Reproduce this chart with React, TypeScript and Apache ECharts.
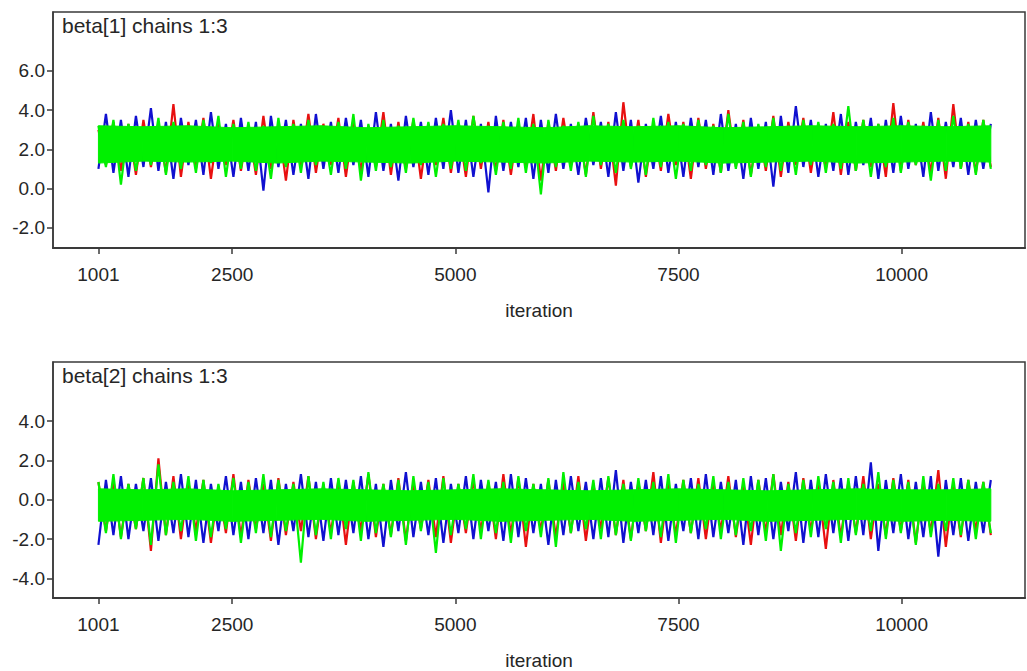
import React, { useEffect, useRef } from "react";
import * as echarts from "echarts";

// ---------- data ----------
const FIRST_ITER = 1001;
const LAST_ITER = 11000;
const X_TICKS = [1001, 2500, 5000, 7500, 10000];
const B1_Y_TICKS = [-2, 0, 2, 4, 6];
const B2_Y_TICKS = [-4, -2, 0, 2, 4];
const TITLES = ["beta[1] chains 1:3", "beta[2] chains 1:3"];

// envelope of the dense (green) core of each trace
const BAND_ITERS = [1001, 1500, 2000, 2500, 3000, 3500, 4000, 4500, 5000, 5500, 6000, 6500, 7000, 7500, 8000, 8500, 9000, 9500, 10000, 10500, 11000];
const B1_BAND_UP = [3.2, 3.15, 3.2, 3.1, 3.15, 3.2, 3.1, 3.15, 3.2, 3.15, 3.1, 3.2, 3.15, 3.2, 3.1, 3.15, 3.2, 3.15, 3.2, 3.15, 3.2];
const B1_BAND_LO = [1.3, 1.4, 1.35, 1.4, 1.3, 1.4, 1.35, 1.3, 1.4, 1.35, 1.3, 1.4, 1.35, 1.4, 1.3, 1.35, 1.4, 1.3, 1.35, 1.4, 1.35];
const B2_BAND_UP = [0.55, 0.5, 0.55, 0.45, 0.5, 0.55, 0.5, 0.45, 0.5, 0.55, 0.5, 0.45, 0.5, 0.55, 0.5, 0.45, 0.5, 0.55, 0.5, 0.5, 0.55];
const B2_BAND_LO = [-1.1, -1.05, -1.0, -1.1, -1.05, -1.0, -1.1, -1.05, -1.0, -1.1, -1.05, -1.0, -1.1, -1.05, -1.0, -1.1, -1.05, -1.0, -1.1, -1.05, -1.1];

// beta[1] excursions of each chain (upper and lower extremes, in sequence)
const B1_RED_HI = [3.0, 3.4, 3.3, 3.5, 3.2, 4.3, 3.4, 3.6, 3.3, 3.5, 3.2, 3.7, 3.3, 3.5, 3.8, 3.3, 3.6, 3.4, 3.2, 3.9, 3.4, 3.5, 3.3, 3.6, 3.2, 3.7, 3.4, 3.5, 3.3, 3.8, 3.4, 3.6, 3.3, 3.9, 3.4, 4.4, 3.5, 3.3, 3.8, 3.4, 3.6, 3.3, 4.0, 3.5, 3.2, 3.7, 3.4, 3.6, 3.3, 3.9, 3.4, 3.5, 3.3, 4.35, 3.5, 3.4, 3.6, 4.3, 3.4, 3.5];
const B1_RED_LO = [1.2, 0.9, 0.7, 1.1, 0.8, 0.6, 1.0, 0.5, 1.2, 0.9, 0.7, 1.0, 0.4, 1.1, 0.8, 1.2, 0.6, 0.9, 1.1, 0.7, 1.0, 0.5, 1.2, 0.8, 0.6, 1.0, 0.9, 0.7, 1.1, 0.4, 0.9, 1.2, 0.7, 1.0, 0.15, 1.1, 0.6, 0.9, 1.2, 0.5, 1.0, 0.8, 1.1, 0.7, 0.9, 0.6, 1.2, 0.8, 1.0, 0.7, 0.9, 1.1, 0.6, 0.9, 1.2, 0.8, 0.5, 1.0, 0.8, 1.1];
const B1_BLUE_LO = [1.0, 0.8, 0.6, 1.1, 0.9, 0.5, 1.2, 0.7, 1.0, 0.6, 0.9, -0.1, 1.1, 0.7, 0.5, 1.0, 0.8, 1.2, 0.6, 0.9, 0.4, 1.1, 0.7, 1.0, 0.8, 0.6, -0.2, 0.9, 1.1, 0.5, 0.8, 1.0, 0.7, 1.2, 0.6, 0.9, 0.3, 1.0, 0.8, 0.6, 1.1, 0.7, 0.9, 0.5, 1.0, 0.1, 0.8, 1.1, 0.6, 0.9, 0.7, 1.2, 0.5, 0.8, 1.0, 0.6, 0.9, 1.1, 0.7, 1.0];
const B1_BLUE_HI = [3.8, 3.5, 3.7, 4.1, 3.4, 3.6, 3.5, 3.9, 3.3, 3.6, 3.4, 3.7, 3.5, 3.3, 3.8, 3.4, 3.6, 3.5, 3.9, 3.3, 3.7, 3.4, 3.6, 4.0, 3.5, 3.3, 3.7, 3.4, 3.6, 3.5, 3.8, 3.3, 3.6, 3.4, 3.9, 3.5, 3.3, 3.7, 3.4, 3.6, 3.5, 3.8, 3.3, 3.6, 3.4, 3.7, 4.2, 3.5, 3.3, 3.8, 3.4, 3.6, 3.5, 3.7, 3.3, 3.9, 3.4, 3.6, 3.5, 3.3];
const B1_GREEN_HI = [3.2, 3.5, 3.3, 3.1, 3.6, 3.4, 3.2, 3.5, 3.7, 3.3, 3.4, 3.2, 3.6, 3.3, 3.5, 3.1, 3.4, 3.8, 3.3, 3.5, 3.2, 3.6, 3.4, 3.3, 3.5, 3.7, 3.2, 3.4, 3.6, 3.3, 3.5, 3.2, 3.4, 3.7, 3.3, 3.5, 3.2, 3.6, 3.4, 3.3, 3.5, 3.2, 3.8, 3.4, 3.3, 3.6, 3.2, 3.5, 3.4, 3.3, 4.2, 3.5, 3.3, 3.6, 3.4, 3.2, 3.5, 3.7, 3.3, 3.5];
const B1_GREEN_LO = [1.1, 0.2, 0.9, 1.2, 0.7, 1.0, 0.8, 1.3, 0.6, 1.0, 0.9, 0.5, 1.1, 0.8, 1.2, 0.7, 1.0, 0.4, 0.9, 1.1, 0.8, 1.2, 0.6, 1.0, 0.9, 1.3, 0.7, 1.0, 0.8, -0.3, 1.1, 0.9, 0.6, 1.2, 0.8, 1.0, 0.7, 1.1, 0.5, 0.9, 1.2, 0.8, 1.0, 0.6, 1.1, 0.9, 0.7, 1.2, 0.8, 1.0, 0.9, 0.6, 1.1, 0.8, 1.2, 0.4, 0.9, 1.0, 0.7, 1.0];

// beta[2] excursions of each chain
const B2_RED_HI = [0.9, 1.0, 0.8, 1.1, 2.1, 1.2, 0.9, 1.0, 0.7, 1.3, 1.0, 0.8, 1.1, 0.9, 1.2, 0.8, 1.0, 0.9, 1.3, 0.8, 1.1, 0.9, 1.0, 1.2, 0.8, 1.0, 0.9, 1.3, 1.1, 0.8, 1.0, 0.9, 1.2, 0.8, 1.1, 1.0, 0.9, 1.4, 0.8, 1.0, 1.1, 0.9, 1.2, 0.8, 1.0, 1.3, 0.9, 1.1, 0.8, 1.0, 0.9, 1.2, 0.8, 1.1, 1.0, 0.9, 1.5, 0.8, 1.0, 0.9];
const B2_RED_LO = [-1.6, -1.9, -1.5, -2.6, -1.8, -2.0, -1.6, -2.2, -1.7, -1.9, -1.5, -2.1, -1.8, -1.6, -2.0, -1.7, -2.3, -1.6, -1.9, -1.8, -2.1, -1.5, -1.9, -2.2, -1.7, -1.6, -2.0, -1.8, -2.4, -1.6, -1.9, -1.7, -2.1, -1.5, -1.8, -2.0, -1.6, -2.2, -1.8, -1.7, -2.0, -1.6, -1.9, -2.3, -1.7, -1.8, -2.1, -1.6, -2.5, -1.9, -1.7, -2.0, -1.8, -1.6, -2.2, -1.7, -2.4, -1.9, -1.6, -1.8];
const B2_BLUE_LO = [-2.3, -1.8, -2.0, -1.6, -2.1, -1.7, -1.9, -2.2, -1.6, -1.8, -2.0, -1.7, -2.3, -1.6, -1.9, -2.1, -1.8, -1.7, -2.0, -2.4, -1.6, -1.9, -1.8, -2.2, -1.7, -2.0, -1.6, -2.1, -1.9, -1.7, -2.3, -1.8, -1.6, -2.0, -1.9, -2.2, -1.7, -1.8, -2.1, -1.6, -2.0, -1.9, -1.7, -2.3, -1.8, -2.0, -1.6, -2.2, -1.9, -1.7, -2.1, -1.8, -2.6, -1.7, -2.0, -1.9, -2.9, -1.8, -2.1, -1.7];
const B2_BLUE_HI = [1.0, 1.2, 0.8, 1.1, 0.9, 1.3, 1.0, 0.8, 1.2, 0.9, 1.1, 1.0, 0.8, 1.3, 0.9, 1.1, 1.0, 1.2, 0.8, 1.0, 1.4, 0.9, 1.1, 0.8, 1.2, 1.0, 0.9, 1.3, 1.1, 0.8, 1.0, 1.2, 0.9, 1.1, 1.5, 0.9, 1.0, 1.2, 0.8, 1.1, 1.3, 0.9, 1.0, 1.2, 1.1, 0.9, 1.4, 1.0, 1.3, 1.1, 1.2, 1.9, 1.0, 1.3, 0.9, 1.2, 1.0, 1.1, 0.9, 1.0];
const B2_GREEN_HI = [0.9, 1.3, 0.8, 1.1, 1.8, 0.9, 1.2, 1.0, 0.8, 1.1, 0.9, 1.3, 1.0, 0.8, 1.2, 0.9, 1.1, 1.0, 1.4, 0.8, 1.0, 1.2, 0.9, 1.1, 0.8, 1.3, 1.0, 0.9, 1.2, 0.8, 1.1, 1.4, 0.9, 1.0, 1.2, 0.8, 1.1, 0.9, 1.3, 1.0, 0.8, 1.2, 0.9, 1.1, 1.0, 1.3, 0.8, 1.0, 1.2, 0.9, 1.1, 0.8, 1.4, 1.0, 0.9, 1.2, 0.8, 1.1, 1.0, 0.9];
const B2_GREEN_LO = [-1.7, -2.0, -1.5, -2.3, -1.8, -1.6, -2.1, -1.9, -1.5, -2.2, -1.7, -1.9, -1.6, -3.2, -1.8, -2.0, -1.5, -2.1, -1.7, -1.9, -2.3, -1.6, -2.7, -1.8, -1.5, -2.0, -1.7, -2.2, -1.6, -1.9, -2.4, -1.7, -1.5, -2.0, -1.8, -2.1, -1.6, -1.9, -2.2, -1.7, -1.5, -2.0, -1.8, -1.6, -2.1, -2.6, -1.7, -1.9, -1.5, -2.2, -1.8, -1.6, -2.0, -1.7, -2.3, -1.9, -1.6, -1.8, -2.0, -1.7];

// ---------- styling ----------
const RED = "#e81010";
const BLUE = "#1010d0";
const GREEN = "#00f000";
const TXT = "#262626";
const AXIS = "#3a3a3a";
const FONT = "'Liberation Sans', Arial, sans-serif";
const FS = 19;
const TITLE_FS = 21;

function zigzag(first: number[], second: number[]) {
  const n = Math.min(first.length, second.length);
  const vals: number[] = [];
  for (let k = 0; k < n; k++) vals.push(first[k], second[k]);
  const step = (LAST_ITER - FIRST_ITER) / (vals.length - 1);
  return vals.map((v, i) => [FIRST_ITER + i * step, v]);
}

function traceSeries(idx: number, color: string, data: number[][], z: number) {
  return {
    type: "line",
    xAxisIndex: idx,
    yAxisIndex: idx,
    data,
    z,
    showSymbol: false,
    symbol: "none",
    silent: true,
    lineStyle: { color, width: 2.2, join: "bevel" },
  };
}

function bandSeries(idx: number, up: number[], lo: number[]) {
  return {
    type: "custom",
    xAxisIndex: idx,
    yAxisIndex: idx,
    z: 4,
    silent: true,
    encode: { x: 0, y: [1, 2] },
    data: BAND_ITERS.slice(0, -1).map((it, i) => [it, up[i], lo[i], i]),
    renderItem: (_p: any, api: any) => {
      const i = api.value(3);
      const pts = [
        api.coord([BAND_ITERS[i], up[i]]),
        api.coord([BAND_ITERS[i + 1], up[i + 1]]),
        api.coord([BAND_ITERS[i + 1], lo[i + 1]]),
        api.coord([BAND_ITERS[i], lo[i]]),
      ];
      return {
        type: "polygon",
        shape: { points: pts },
        style: { fill: GREEN, stroke: GREEN, lineWidth: 1 },
      };
    },
  };
}

function xAxis(idx: number) {
  return {
    type: "value",
    gridIndex: idx,
    min: 492,
    max: 11383,
    splitLine: { show: false },
    axisLine: { show: true, onZero: false, lineStyle: { color: AXIS, width: 2 } },
    axisTick: { show: true, customValues: X_TICKS, length: 6, lineStyle: { color: AXIS, width: 1.5 } },
    axisLabel: {
      customValues: X_TICKS,
      fontSize: FS,
      color: TXT,
      fontFamily: FONT,
      margin: 17,
      formatter: (v: number) => String(v),
    },
    name: "iteration",
    nameLocation: "middle",
    nameGap: 53,
    nameTextStyle: { fontSize: FS, color: TXT, fontFamily: FONT },
  };
}

function yAxis(idx: number, min: number, max: number, ticks: number[]) {
  return {
    type: "value",
    gridIndex: idx,
    min,
    max,
    splitLine: { show: false },
    axisLine: { show: true, onZero: false, lineStyle: { color: AXIS, width: 1.5 } },
    axisTick: { show: true, customValues: ticks, length: 6, lineStyle: { color: AXIS, width: 1.5 } },
    axisLabel: {
      customValues: ticks,
      fontSize: FS,
      color: TXT,
      fontFamily: FONT,
      margin: 8,
      formatter: (v: number) => v.toFixed(1),
    },
  };
}

export default function App() {
  const ref = useRef<HTMLDivElement>(null);
  useEffect(() => {
    if (!ref.current) return;
    const chart = echarts.init(ref.current, undefined, { renderer: "svg" });
    chart.setOption({
      animation: false,
      backgroundColor: "#ffffff",
      grid: [
        { left: 53, top: 12, width: 972, height: 236, show: true, borderColor: AXIS, borderWidth: 1.5, backgroundColor: "#fff" },
        { left: 53, top: 362, width: 972, height: 237, show: true, borderColor: AXIS, borderWidth: 1.5, backgroundColor: "#fff" },
      ],
      xAxis: [xAxis(0), xAxis(1)],
      yAxis: [yAxis(0, -3.03, 9, B1_Y_TICKS), yAxis(1, -5, 7, B2_Y_TICKS)],
      graphic: [
        { type: "text", left: 62, top: 15, style: { text: TITLES[0], fontSize: TITLE_FS, fill: TXT, fontFamily: FONT } },
        { type: "text", left: 62, top: 365, style: { text: TITLES[1], fontSize: TITLE_FS, fill: TXT, fontFamily: FONT } },
      ],
      series: [
        traceSeries(0, RED, zigzag(B1_RED_HI, B1_RED_LO), 2),
        traceSeries(0, BLUE, zigzag(B1_BLUE_LO, B1_BLUE_HI), 3),
        bandSeries(0, B1_BAND_UP, B1_BAND_LO),
        traceSeries(0, GREEN, zigzag(B1_GREEN_HI, B1_GREEN_LO), 5),
        traceSeries(1, RED, zigzag(B2_RED_HI, B2_RED_LO), 2),
        traceSeries(1, BLUE, zigzag(B2_BLUE_LO, B2_BLUE_HI), 3),
        bandSeries(1, B2_BAND_UP, B2_BAND_LO),
        traceSeries(1, GREEN, zigzag(B2_GREEN_HI, B2_GREEN_LO), 5),
      ],
    });
    return () => chart.dispose();
  }, []);
  return (
    <div
      ref={ref}
      style={{ position: "absolute", left: 0, top: 0, width: 1027, height: 671, background: "#fff" }}
    />
  );
}
